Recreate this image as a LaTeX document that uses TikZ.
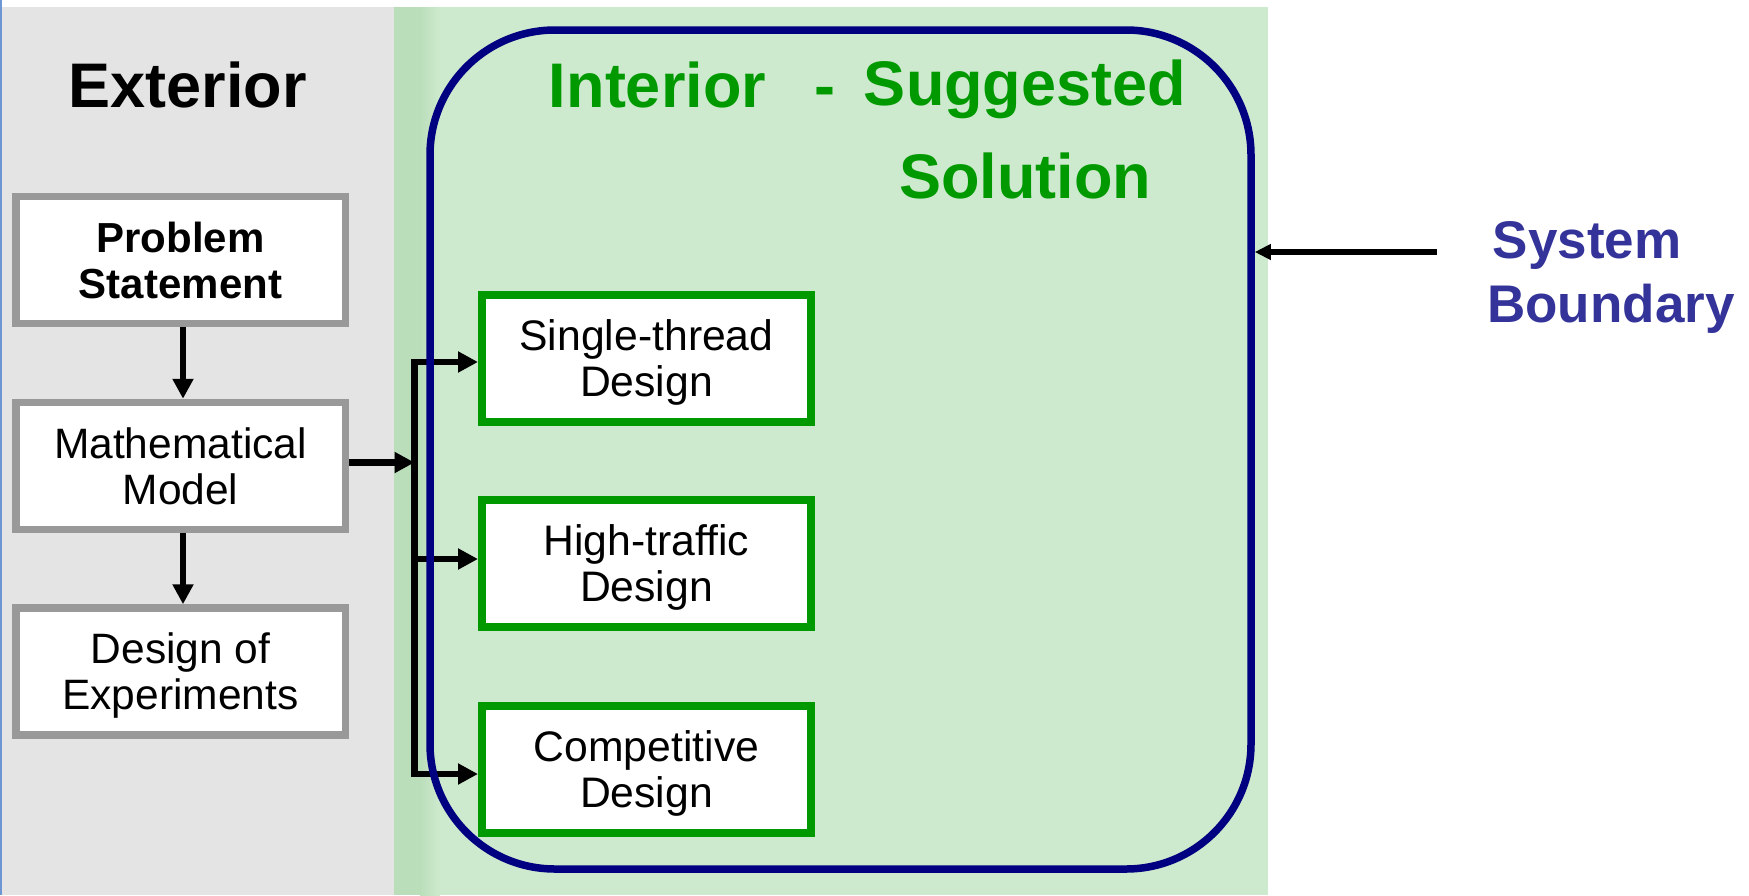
\documentclass[tikz,border=0pt]{standalone}
\usepackage{fontspec}
\setmainfont{Liberation Sans}
\usetikzlibrary{arrows.meta,calc}

\definecolor{dkgreen}{RGB}{0,153,0}
\definecolor{navyline}{RGB}{0,0,128}
\definecolor{sbblue}{RGB}{51,51,153}
\definecolor{boxgray}{RGB}{153,153,153}
\definecolor{extbg}{RGB}{228,228,228}
\definecolor{intbg}{RGB}{206,234,206}
\definecolor{intedge}{RGB}{186,222,186}
\definecolor{edgeline}{RGB}{110,150,210}

\begin{document}
\begin{tikzpicture}[x=1pt,y=-1pt,
  exbox/.style={draw=boxgray, line width=7.5pt, fill=white,
    minimum width=329.5pt, minimum height=127pt, inner sep=0pt,
    text depth=0pt, align=center, font=\fontsize{42.5}{46}\selectfont},
  inbox/.style={draw=dkgreen, line width=8pt, fill=white,
    minimum width=329pt, minimum height=127pt, inner sep=0pt,
    text depth=0pt, align=center, font=\fontsize{42.7}{46}\selectfont},
  flow/.style={line width=6.5pt, -{Triangle[length=20pt,width=20pt]}},
  bus/.style={line width=6.5pt, line cap=rect},
  heading/.style={inner sep=0pt, anchor=base, font=\bfseries\fontsize{63}{93}\selectfont}
]
\useasboundingbox (0,0) rectangle (1749,895);

% backgrounds: exterior (grey) and interior (green) panels
\fill[white] (0,0) rectangle (1749,895);
\fill[extbg] (0,7) rectangle (394,895);
\fill[intbg] (394,7) rectangle (1268,895);
\fill[intedge] (394,7) rectangle (420,895);
\shade[left color=intedge, right color=intbg] (420,7) rectangle (440,895);
\draw[edgeline, line width=2pt] (1,0) -- (1,895);

% headings
\node[heading] (ext) at (187.5,107) {Exterior};
\node[heading, text=dkgreen] (intr) at (657.5,107) {Interior};
\node[heading, text=dkgreen] (dash) at (825,107) {-};
\node[heading, text=dkgreen, align=center] (sugg) at (1025,198) {Suggested\\Solution};

% exterior boxes
\node[exbox, font=\bfseries\fontsize{42}{46}\selectfont] (prob) at (180.5,260) {Problem\\Statement};
\node[exbox] (math) at (180.5,466) {Mathematical\\Model};
\node[exbox] (doe) at (180.5,671.5) {Design of\\Experiments};

% interior boxes
\node[inbox] (single) at (646.5,358) {Single-thread\\Design};
\node[inbox] (high) at (646.5,563.5) {High-traffic\\Design};
\node[inbox] (comp) at (646.5,769.5) {Competitive\\Design};

% exterior flow
\draw[flow] ([xshift=2.5pt]prob.south) -- ([xshift=2.5pt]math.north);
\draw[flow] ([xshift=2.5pt]math.south) -- ([xshift=2.5pt]doe.north);

% distribution bus into the interior designs
\coordinate (bt) at (414.5,362);
\coordinate (bb) at (414.5,774);
\draw[flow] ([yshift=3.5pt]math.east) -- ([yshift=3.5pt]math.east -| bt);
\draw[bus] (bt) -- (bb);
\draw[flow] (bt) -- (bt -| single.west);
\draw[flow] ([yshift=4.5pt]high.west -| bt) -- ([yshift=4.5pt]high.west);
\draw[flow] (bb) -- (bb -| comp.west);

% system boundary
\node[draw=navyline, line width=7.5pt, rounded corners=125pt,
      minimum width=821pt, minimum height=839pt, inner sep=0pt] (boundary) at (840.5,449.5) {};

% boundary label with pointer
\node[inner sep=0pt, anchor=base west, align=left, text=sbblue,
      font=\bfseries\fontsize{53}{64}\selectfont] (sblabel) at (1487,322) {\hspace*{5.5pt}System\\Boundary};
\coordinate (sbtail) at (1437,252);
\draw[line width=5.3pt, -{Triangle[length=16pt,width=15pt]}] (sbtail) -- (sbtail -| boundary.east);
\end{tikzpicture}
\end{document}
